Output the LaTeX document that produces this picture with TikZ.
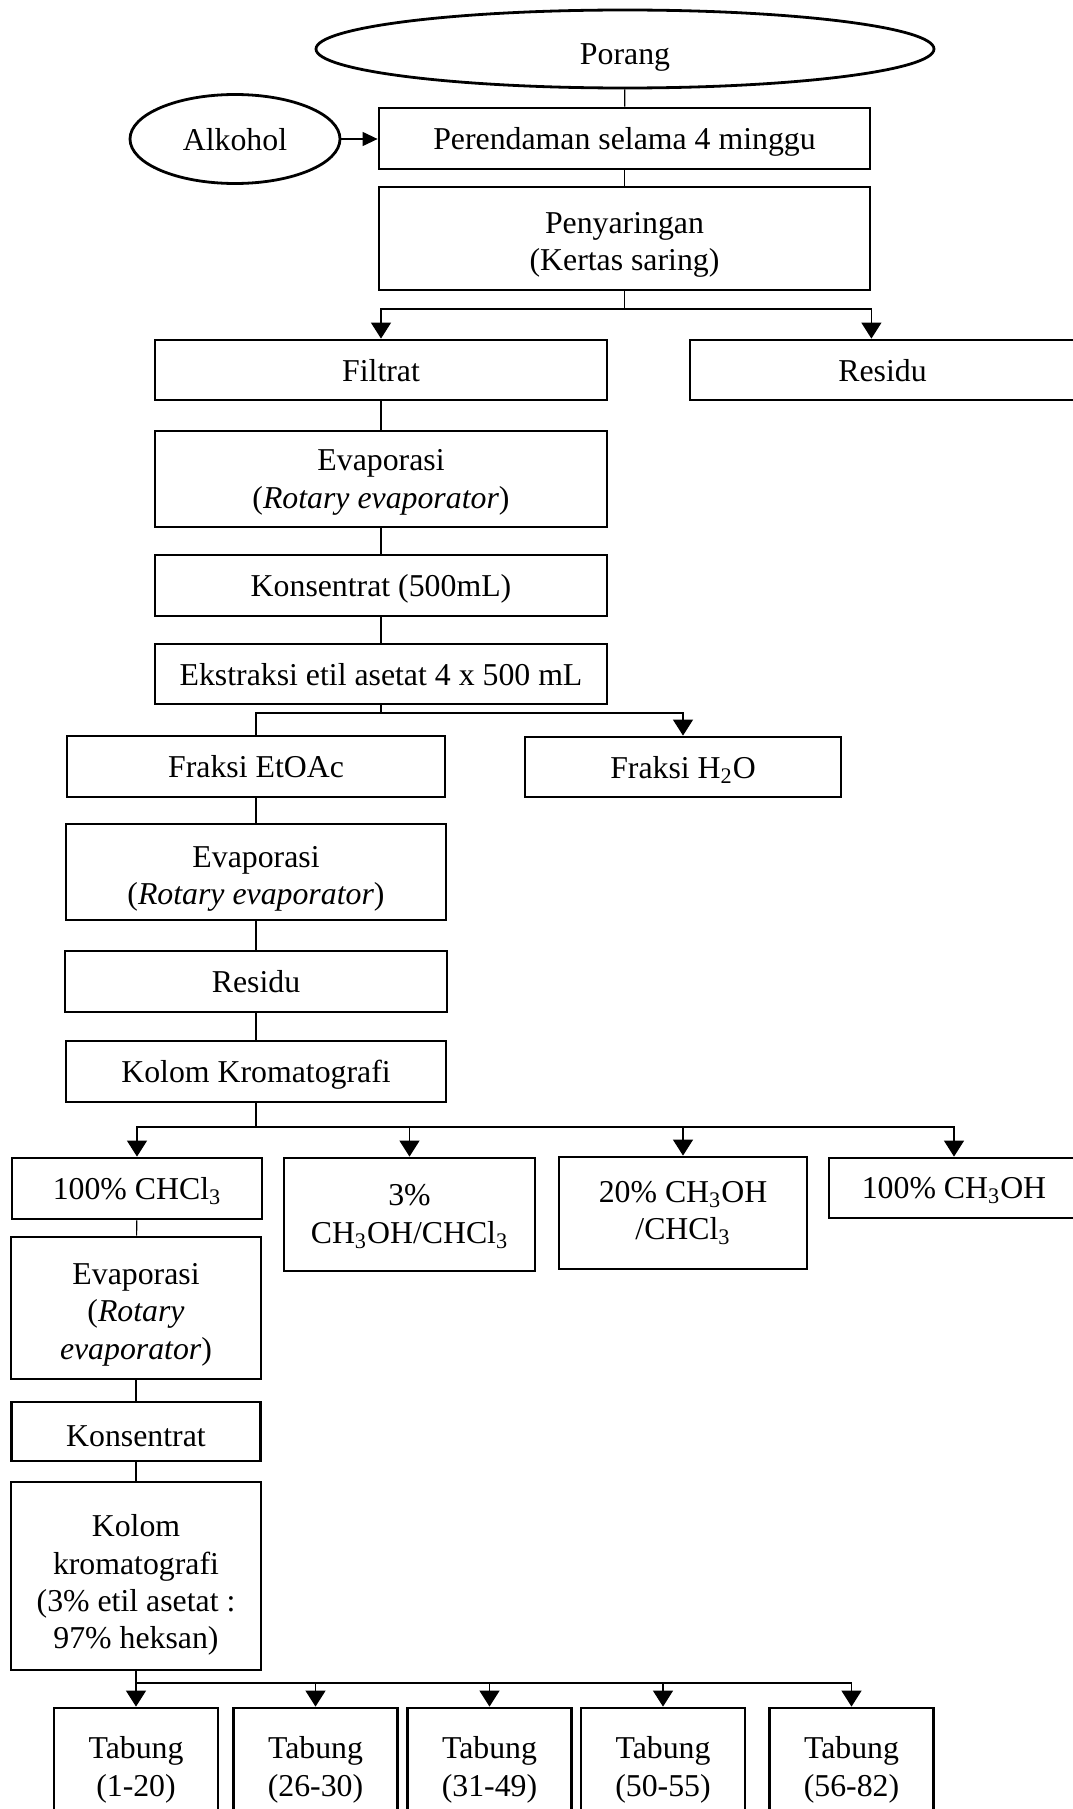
\documentclass[tikz,border=0pt]{standalone}
\usepackage{fontspec}
\setmainfont{Liberation Serif}
\usetikzlibrary{shapes.geometric, arrows.meta}

\begin{document}
\begin{tikzpicture}[
    x=0.5pt, y=-0.5pt,
    font=\fontsize{15.9}{18.7}\selectfont,
    proc/.style={draw, line width=1.4pt, inner sep=0pt, align=center},
    src/.style={draw, ellipse, line width=1.4pt, inner sep=0pt, align=center},
    wh/.style 2 args={minimum width=#1*0.5pt, minimum height=#2*0.5pt},
    sink/.style={text depth=#1},
    drop/.style={text height=#1, text depth=0pt},
    link/.style={line width=0.6pt},
    flow/.style={-{Triangle[length=8pt, width=10pt]}, line width=0.6pt}
]
\useasboundingbox (0,0) rectangle (1072,1809);

% Bahan awal
\node[src, wh={618}{78}, drop=15.1pt] (porang) at (625,49) {Porang};
\node[src, wh={210}{89}, sink=0pt] (alkohol) at (235,139) {Alkohol};

% Ekstraksi
\node[proc, wh={491}{61}, sink=0pt] (rend) at (624.5,138.5) {Perendaman selama 4 minggu};
\node[proc, wh={491}{103}, drop=31.9pt] (saring) at (624.5,238.5) {Penyaringan\\(Kertas saring)};
\node[proc, wh={452}{60}, sink=0pt] (filtrat) at (381,370) {Filtrat};
\node[proc, wh={385}{60}, sink=0pt] (residu) at (882.5,370) {Residu};
\node[proc, wh={452}{96}, sink=0pt] (evap1) at (381,479) {Evaporasi\\(\textit{Rotary evaporator})};
\node[proc, wh={452}{61}, sink=0pt] (konsen1) at (381,585.5) {Konsentrat (500mL)};
\node[proc, wh={452}{60}, sink=0pt] (ekstrak) at (381,674) {Ekstraksi etil asetat 4 x 500 mL};

% Fraksi
\node[proc, wh={378}{61}, sink=0pt] (etoac) at (256,766.5) {Fraksi EtOAc};
\node[proc, wh={316}{60}, sink=0pt] (h2o) at (683,767) {Fraksi H\textsubscript{2}O};
\node[proc, wh={380}{96}, drop=32.5pt] (evap2) at (256,872) {Evaporasi\\(\textit{Rotary evaporator})};
\node[proc, wh={382}{61}, sink=0pt] (residu2) at (256,981.5) {Residu};
\node[proc, wh={380}{61}, sink=0pt] (kolom1) at (256,1071.5) {Kolom Kromatografi};

% Eluen
\node[proc, wh={250}{61}, sink=0pt] (chcl3) at (137,1188.5) {100\% CHCl\textsubscript{3}};
\node[proc, wh={251}{113}, sink=0.7pt] (mix3) at (409.5,1214.5) {3\%\\CH\textsubscript{3}OH/CHCl\textsubscript{3}};
\node[proc, wh={248}{112}] (mix20) at (683,1213) {20\% CH\textsubscript{3}OH\\/CHCl\textsubscript{3}};
\node[proc, wh={250}{60}, sink=0pt] (meoh) at (954,1188) {100\% CH\textsubscript{3}OH};
\node[proc, wh={250}{142}, drop=51.2pt] (evap3) at (136,1308) {Evaporasi\\(\textit{Rotary}\\\textit{evaporator})};
\node[proc, wh={249}{59}, drop=15.1pt] (konsen2) at (136,1431.5) {Konsentrat};
\node[proc, wh={250}{188}, drop=72.8pt] (kolom2) at (136,1576) {Kolom\\kromatografi\\(3\% etil asetat :\\97\% heksan)};

% Tabung
\foreach \i/\x/\r in {1/136/1-20, 2/315.5/26-30, 3/489.5/31-49, 4/663/50-55, 5/851.5/56-82}
    \node[proc, wh={164}{107}, drop=34.8pt] (tb\i) at (\x,1761.5) {Tabung\\(\r)};

% Percabangan
\coordinate (j1) at (624.5,309);
\coordinate (j2) at (381,713);
\coordinate (j3) at (256,1127);
\coordinate (j4) at (136,1683);

% Garis lurus
\foreach \a/\b in {porang/rend, rend/saring, saring/j1, filtrat/evap1, evap1/konsen1, konsen1/ekstrak, ekstrak/j2,
    etoac/evap2, evap2/residu2, residu2/kolom1, kolom1/j3, chcl3/evap3, evap3/konsen2, konsen2/kolom2, kolom2/j4}
    \draw[link] (\a) -- (\b);

% Panah
\draw[-{Triangle[length=7.5pt, width=7pt]}, link] (alkohol) -- (alkohol -| rend.west);
\draw[flow] (j1) -| (filtrat.north);
\draw[flow] (j1) -| (residu.north -| saring.east);
\draw[link] (j2) -| (etoac.north);
\draw[flow] (j2) -| (h2o.north);
\foreach \n in {chcl3, mix3, mix20, meoh}
    \draw[flow] (j3) -| (\n.north);
\foreach \i in {1,...,5}
    \draw[flow] (j4) -| (tb\i.north);

\end{tikzpicture}
\end{document}
